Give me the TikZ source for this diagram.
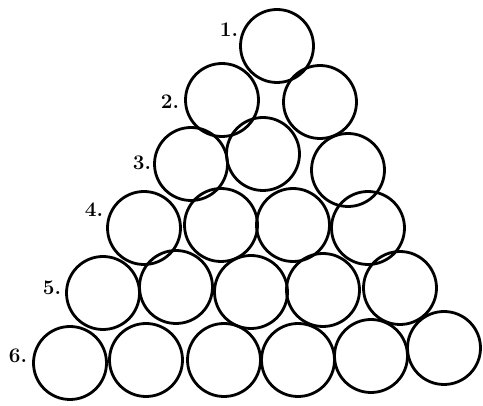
\documentclass[tikz,border=0pt]{standalone}
\usepackage{tikz}

\tikzset{
  ball/.style={circle,draw,line width=2.8pt,minimum size=73pt,inner sep=0pt},
  rowlabel/.style={font=\bfseries\huge,inner sep=0pt}
}

\begin{document}
\begin{tikzpicture}[x=1pt,y=-1pt]
  \useasboundingbox (0,0) rectangle (483,406);
  % row 1
  \node[ball] (c11) at (277,46) {};
  % row 2
  \node[ball] (c21) at (222,100) {};
  \node[ball] (c22) at (320,102) {};
  % row 3
  \node[ball] (c31) at (191,164) {};
  \node[ball] (c32) at (263,154) {};
  \node[ball] (c33) at (348,170) {};
  % row 4
  \node[ball] (c41) at (144,228) {};
  \node[ball] (c42) at (221,225) {};
  \node[ball] (c43) at (293,225) {};
  \node[ball] (c44) at (368,228) {};
  % row 5
  \node[ball] (c51) at (103,293) {};
  \node[ball] (c52) at (176,287) {};
  \node[ball] (c53) at (251,292) {};
  \node[ball] (c54) at (323,290) {};
  \node[ball] (c55) at (400,288) {};
  % row 6
  \node[ball] (c61) at (70,363) {};
  \node[ball] (c62) at (146,360) {};
  \node[ball] (c63) at (224,360) {};
  \node[ball] (c64) at (298,360) {};
  \node[ball] (c65) at (371,356) {};
  \node[ball] (c66) at (444,348) {};
  % row numbers
  \node[rowlabel] (l1) at (229,30) {1.};
  \node[rowlabel] (l2) at (170,102) {2.};
  \node[rowlabel] (l3) at (142,163) {3.};
  \node[rowlabel] (l4) at (94,210) {4.};
  \node[rowlabel] (l5) at (52,288) {5.};
  \node[rowlabel] (l6) at (18,356) {6.};
\end{tikzpicture}
\end{document}
